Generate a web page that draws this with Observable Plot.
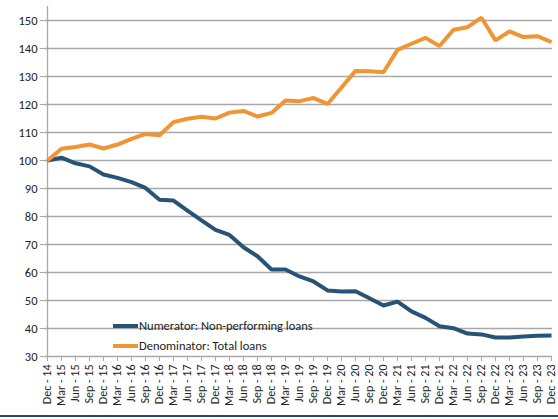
<!DOCTYPE html>
<html>
<head>
<meta charset="utf-8">
<script src="https://cdn.jsdelivr.net/npm/d3@7"></script>
<script src="https://cdn.jsdelivr.net/npm/@observablehq/plot@0.6"></script>
<style>
  html, body { margin: 0; padding: 0; background: #fff; }
  #wrap { position: relative; width: 558px; height: 419px; overflow: hidden; font-family: Carlito, "Liberation Sans", Arial, sans-serif; }
  #legend { position: absolute; left: 113px; top: 316px; font-size: 12.5px; color: #222; line-height: 20px; }
  .item { display: flex; align-items: center; white-space: nowrap; }
  .sw { width: 25px; height: 4px; margin-right: 1px; }
  #bar { position: absolute; left: 0; top: 415px; width: 558px; height: 2px; background: #2b4b6e; }
</style>
</head>
<body>
<div id="wrap">
  <div id="chart"></div>
  <div id="legend"></div>
  <div id="bar"></div>
</div>
<script>
const quarters = ["Dec - 14","Mar - 15","Jun - 15","Sep - 15","Dec - 15","Mar - 16","Jun - 16","Sep - 16","Dec - 16","Mar - 17","Jun - 17","Sep - 17","Dec - 17","Mar - 18","Jun - 18","Sep - 18","Dec - 18","Mar - 19","Jun - 19","Sep - 19","Dec - 19","Mar - 20","Jun - 20","Sep - 20","Dec - 20","Mar - 21","Jun - 21","Sep - 21","Dec - 21","Mar - 22","Jun - 22","Sep - 22","Dec - 22","Mar - 23","Jun - 23","Sep - 23","Dec - 23"];

const nplValues = [100,101,99,97.9,95,93.8,92.3,90.2,86,85.7,82.1,78.6,75.2,73.4,69,65.8,61.1,61.1,58.6,56.8,53.6,53.2,53.3,50.8,48.2,49.6,46.1,43.8,40.8,40.1,38.2,37.9,36.8,36.8,37.1,37.4,37.5];

const loanValues = [100,104.2,104.8,105.7,104.3,105.7,107.7,109.5,109,113.7,114.9,115.6,115,117.1,117.7,115.7,117,121.4,121.2,122.3,120.2,126.1,132,131.9,131.5,139.5,141.7,143.8,140.9,146.7,147.6,151,142.9,146.1,144.1,144.4,142.3];

const seriesNames = ["Numerator: Non-performing loans", "Denominator: Total loans"];
const seriesColors = ["#275476", "#ef9535"];
const yTicks = [30,40,50,60,70,80,90,100,110,120,130,140,150];

const data = [];
quarters.forEach((q, i) => {
  data.push({q, v: nplValues[i], s: seriesNames[0]});
  data.push({q, v: loanValues[i], s: seriesNames[1]});
});

const chart = Plot.plot({
  width: 558,
  height: 415,
  marginLeft: 45,
  marginRight: 6,
  marginTop: 6,
  marginBottom: 59,
  style: {fontFamily: 'Carlito, "Liberation Sans", Arial, sans-serif', color: "#222", background: "#fff"},
  x: {type: "point", domain: quarters, padding: 0},
  y: {domain: [30, 155]},
  color: {domain: seriesNames, range: seriesColors},
  marks: [
    Plot.gridY(yTicks, {stroke: "#a8a8a8", strokeOpacity: 1, strokeWidth: 1.3}),
    Plot.ruleX([quarters[0]], {stroke: "#a8a8a8", strokeWidth: 1.3}),
    Plot.axisY(yTicks, {tickSize: 5, tickPadding: 3, stroke: "#a8a8a8", fontSize: 12.5, label: null}),
    Plot.axisX({tickRotate: -90, tickSize: 5, tickPadding: 3, stroke: "#a8a8a8", fontSize: 12, label: null}),
    Plot.line(data, {x: "q", y: "v", z: "s", stroke: "s", strokeWidth: 4, strokeLinejoin: "miter", strokeLinecap: "butt"})
  ]
});
chart.querySelectorAll("g[aria-label='x-axis tick label'] text, g[aria-label='y-axis tick label'] text").forEach(t => t.setAttribute("fill", "#222"));
document.getElementById("chart").appendChild(chart);

const legend = document.getElementById("legend");
seriesNames.forEach((name, i) => {
  const item = document.createElement("div");
  item.className = "item";
  const sw = document.createElement("span");
  sw.className = "sw";
  sw.style.background = seriesColors[i];
  const lab = document.createElement("span");
  lab.textContent = name;
  item.appendChild(sw);
  item.appendChild(lab);
  legend.appendChild(item);
});
</script>
</body>
</html>
